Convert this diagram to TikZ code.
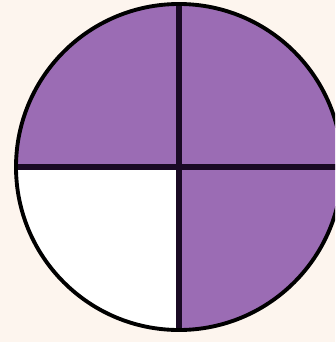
\documentclass[tikz,border=0pt]{standalone}
\definecolor{bg}{RGB}{253,245,238}
\definecolor{fillpurple}{RGB}{155,108,180}
\definecolor{inkline}{RGB}{26,10,36}
\begin{document}
\begin{tikzpicture}[x=0.03cm,y=-0.03cm,
  outline/.style={draw=black,line width=3.3pt},
  divider/.style={draw=inkline,line width=4.3pt}]
\useasboundingbox (0,0) rectangle (335,342);
\fill[bg] (0,0) rectangle (335,342);
\begin{scope}
\clip (0,0) rectangle (335,342);
\coordinate (c) at (179,167);
\fill[fillpurple] (c) circle[radius=163];
\fill[white] (c) -- (16,167) arc[start angle=180,end angle=90,radius=163] -- cycle;
\draw[divider] (179,4) -- (179,330);
\draw[divider] (16,167) -- (342,167);
\draw[outline] (c) circle[radius=163];
\end{scope}
\end{tikzpicture}
\end{document}
